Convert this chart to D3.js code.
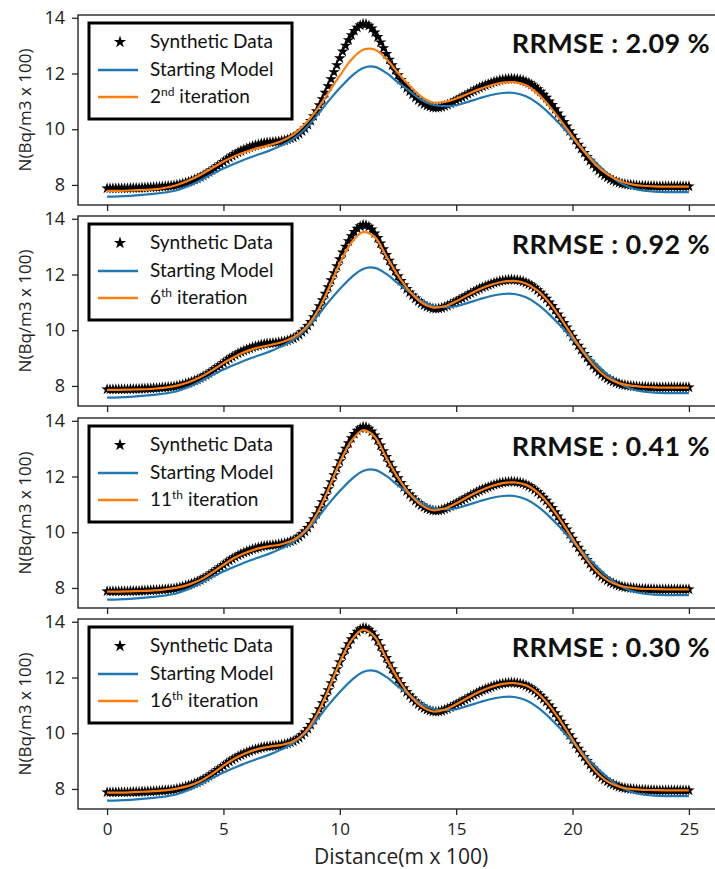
<!DOCTYPE html>
<html>
<head>
<meta charset="utf-8">
<script src="https://cdn.jsdelivr.net/npm/d3@7"></script>
<style>
  body { margin: 0; background: #fff; }
  svg { display: block; }
</style>
</head>
<body>
<svg id="chart" width="715" height="869"></svg>
<script>
// Synthetic data, sampled every 0.125 (distance in m x 100); one row per unit
const syntheticData = [
  7.88, 7.88, 7.88, 7.88, 7.88, 7.88, 7.88, 7.88,
  7.89, 7.89, 7.89, 7.89, 7.90, 7.90, 7.91, 7.91,
  7.92, 7.92, 7.93, 7.94, 7.95, 7.96, 7.97, 7.98,
  8.00, 8.02, 8.05, 8.08, 8.11, 8.15, 8.19, 8.23,
  8.28, 8.34, 8.40, 8.46, 8.53, 8.60, 8.68, 8.75,
  8.83, 8.91, 8.98, 9.05, 9.11, 9.17, 9.22, 9.27,
  9.31, 9.35, 9.39, 9.42, 9.45, 9.48, 9.50, 9.52,
  9.53, 9.54, 9.55, 9.56, 9.58, 9.60, 9.63, 9.67,
  9.71, 9.77, 9.84, 9.93, 10.03, 10.16, 10.30, 10.47,
  10.65, 10.86, 11.08, 11.31, 11.55, 11.80, 12.05, 12.30,
  12.55, 12.79, 13.00, 13.20, 13.38, 13.53, 13.65, 13.73,
  13.78, 13.77, 13.72, 13.62, 13.48, 13.31, 13.12, 12.91,
  12.70, 12.50, 12.30, 12.12, 11.94, 11.77, 11.62, 11.48,
  11.36, 11.25, 11.14, 11.05, 10.97, 10.90, 10.85, 10.81,
  10.78, 10.77, 10.78, 10.80, 10.84, 10.88, 10.93, 10.98,
  11.04, 11.10, 11.15, 11.21, 11.27, 11.33, 11.38, 11.44,
  11.49, 11.54, 11.58, 11.62, 11.66, 11.70, 11.73, 11.76,
  11.78, 11.80, 11.81, 11.82, 11.81, 11.80, 11.78, 11.75,
  11.71, 11.66, 11.60, 11.53, 11.44, 11.35, 11.24, 11.13,
  11.00, 10.87, 10.72, 10.57, 10.42, 10.26, 10.10, 9.93,
  9.77, 9.61, 9.45, 9.30, 9.15, 9.01, 8.87, 8.74,
  8.62, 8.52, 8.42, 8.34, 8.27, 8.21, 8.16, 8.12,
  8.08, 8.05, 8.03, 8.01, 8.00, 7.99, 7.98, 7.97,
  7.97, 7.97, 7.96, 7.96, 7.96, 7.95, 7.95, 7.95,
  7.95, 7.95, 7.95, 7.95, 7.95, 7.95, 7.95, 7.95,
  7.95
];
const syntheticX = syntheticData.map((_, i) => i * 0.125);

// Model curves, sampled every 0.5
const startingModel = [
  7.58, 7.59, 7.61, 7.64, 7.68, 7.73, 7.81, 7.96, 8.16, 8.38,
  8.59, 8.77, 8.94, 9.09, 9.24, 9.42, 9.65, 10.00, 10.47, 11.00,
  11.48, 11.90, 12.20, 12.24, 12.02, 11.68, 11.37, 11.06, 10.88, 10.83,
  10.86, 10.98, 11.11, 11.23, 11.30, 11.30, 11.18, 10.93, 10.57, 10.14,
  9.68, 9.23, 8.80, 8.41, 8.10, 7.90, 7.80, 7.76, 7.74, 7.74,
  7.74
];
const iteration2 = [
  7.79, 7.79, 7.80, 7.82, 7.84, 7.90, 8.00, 8.16, 8.36, 8.60,
  8.84, 9.04, 9.20, 9.33, 9.44, 9.58, 9.80, 10.18, 10.68, 11.30,
  11.92, 12.50, 12.85, 12.86, 12.52, 12.02, 11.56, 11.17, 10.96, 10.98,
  11.10, 11.27, 11.44, 11.58, 11.67, 11.69, 11.58, 11.28, 10.83, 10.30,
  9.74, 9.20, 8.72, 8.38, 8.16, 8.03, 7.97, 7.95, 7.94, 7.94,
  7.94
];
const iteration6 = [
  7.86, 7.86, 7.87, 7.88, 7.90, 7.94, 8.01, 8.13, 8.31, 8.55,
  8.82, 9.06, 9.25, 9.38, 9.47, 9.57, 9.74, 10.06, 10.62, 11.45,
  12.40, 13.15, 13.52, 13.35, 12.65, 11.96, 11.40, 11.00, 10.82, 10.86,
  11.04, 11.26, 11.47, 11.63, 11.74, 11.77, 11.68, 11.42, 10.99, 10.42,
  9.78, 9.17, 8.66, 8.30, 8.10, 8.01, 7.97, 7.95, 7.94, 7.94,
  7.94
];
const iteration11 = [
  7.87, 7.87, 7.88, 7.89, 7.91, 7.95, 8.01, 8.12, 8.29, 8.54,
  8.83, 9.09, 9.28, 9.42, 9.50, 9.57, 9.72, 10.04, 10.63, 11.52,
  12.50, 13.28, 13.66, 13.43, 12.67, 11.96, 11.38, 10.98, 10.79, 10.85,
  11.04, 11.27, 11.48, 11.65, 11.76, 11.79, 11.70, 11.43, 10.99, 10.42,
  9.77, 9.15, 8.63, 8.28, 8.09, 8.01, 7.97, 7.96, 7.95, 7.95,
  7.95
];
const iteration16 = [
  7.87, 7.87, 7.88, 7.90, 7.92, 7.95, 8.01, 8.11, 8.28, 8.53,
  8.83, 9.10, 9.30, 9.44, 9.52, 9.58, 9.71, 10.03, 10.64, 11.54,
  12.54, 13.34, 13.72, 13.46, 12.68, 11.96, 11.37, 10.97, 10.78, 10.84,
  11.04, 11.27, 11.49, 11.66, 11.77, 11.80, 11.71, 11.44, 11.00, 10.42,
  9.77, 9.15, 8.63, 8.27, 8.08, 8.00, 7.97, 7.96, 7.95, 7.95,
  7.95
];
const modelX = startingModel.map((_, i) => i * 0.5);

const iterationNumbers = ["2", "6", "11", "16"];
const iterationSuffixes = ["nd", "th", "th", "th"];
const iterationSeries = [iteration2, iteration6, iteration11, iteration16];
const rrmseValues = ["2.09", "0.92", "0.41", "0.30"];

const xTicks = [0, 5, 10, 15, 20, 25];
const yTicks = [8, 10, 12, 14];

// Layout
const svg = d3.select("#chart");
const left = 78, right = 718;
const panelTops = [15, 216, 418, 619];
const panelH = 190;

const x = d3.scaleLinear().domain([-1.25, 26.25]).range([left, right]);

const tickFont = "'Open Sans', sans-serif";
const legendFont = "Lato, sans-serif";
const frameColor = "#262626";
const blue = "#1f77b4";
const orange = "#ff7f0e";

const star = d3.symbol().type(d3.symbolStar).size(42);
const legendStar = d3.symbol().type(d3.symbolStar).size(48);

panelTops.forEach((top, p) => {
  const y = d3.scaleLinear().domain([7.28, 14.1]).range([top + panelH, top]);
  const g = svg.append("g");

  const clipId = "clip" + p;
  svg.append("clipPath").attr("id", clipId)
    .append("rect").attr("x", left).attr("y", top).attr("width", right - left).attr("height", panelH);

  const plot = g.append("g").attr("clip-path", `url(#${clipId})`);

  // synthetic data stars
  plot.append("g").selectAll("path")
    .data(syntheticData)
    .join("path")
    .attr("d", star)
    .attr("transform", (d, i) => `translate(${x(syntheticX[i])},${y(d)})`)
    .attr("fill", "#000");

  const line = d3.line()
    .x((d, i) => x(modelX[i]))
    .y(d => y(d))
    .curve(d3.curveCatmullRom.alpha(0.5));

  plot.append("path")
    .datum(startingModel)
    .attr("d", line)
    .attr("fill", "none")
    .attr("stroke", blue)
    .attr("stroke-width", 2.2);

  plot.append("path")
    .datum(iterationSeries[p])
    .attr("d", line)
    .attr("fill", "none")
    .attr("stroke", orange)
    .attr("stroke-width", 2.2);

  // frame
  g.append("rect")
    .attr("x", left).attr("y", top)
    .attr("width", right - left).attr("height", panelH)
    .attr("fill", "none")
    .attr("stroke", frameColor)
    .attr("stroke-width", 1.4);

  // y axis
  const yAxis = g.append("g")
    .attr("transform", `translate(${left},0)`)
    .call(d3.axisLeft(y).tickValues(yTicks).tickSize(6).tickPadding(7).tickFormat(d3.format("d")));
  yAxis.select(".domain").remove();
  yAxis.selectAll("line").attr("stroke", frameColor).attr("stroke-width", 1.3);
  yAxis.selectAll("text")
    .attr("fill", "#222")
    .style("font-family", tickFont)
    .style("font-size", "18px");

  // x axis
  const last = p === panelTops.length - 1;
  const xAxis = g.append("g")
    .attr("transform", `translate(0,${top + panelH})`)
    .call(d3.axisBottom(x).tickValues(xTicks).tickSize(6).tickPadding(8)
      .tickFormat(last ? d3.format("d") : () => ""));
  xAxis.select(".domain").remove();
  xAxis.selectAll("line").attr("stroke", frameColor).attr("stroke-width", 1.3);
  xAxis.selectAll("text")
    .attr("fill", "#222")
    .style("font-family", tickFont)
    .style("font-size", "17px");

  // y axis title
  g.append("text")
    .attr("transform", `translate(31,${top + panelH / 2}) rotate(-90)`)
    .attr("text-anchor", "middle")
    .attr("fill", "#222")
    .style("font-family", tickFont)
    .style("font-size", "17px")
    .text("N(Bq/m3 x 100)");

  // legend
  const lg = g.append("g");
  lg.append("rect")
    .attr("x", 89).attr("y", top + 8)
    .attr("width", 203).attr("height", 96)
    .attr("fill", "#fff")
    .attr("stroke", "#000")
    .attr("stroke-width", 3);
  lg.append("path")
    .attr("d", legendStar)
    .attr("transform", `translate(120,${top + 27})`)
    .attr("fill", "#000");
  lg.append("line")
    .attr("x1", 98).attr("x2", 138)
    .attr("y1", top + 55).attr("y2", top + 55)
    .attr("stroke", blue).attr("stroke-width", 2.5);
  lg.append("line")
    .attr("x1", 98).attr("x2", 138)
    .attr("y1", top + 82).attr("y2", top + 82)
    .attr("stroke", orange).attr("stroke-width", 2.5);

  const lt = (yy) => lg.append("text")
    .attr("x", 150).attr("y", yy)
    .attr("fill", "#111")
    .style("font-family", legendFont)
    .style("font-size", "19px");
  lt(top + 33).text("Synthetic Data");
  lt(top + 61).text("Starting Model");
  const it = lt(top + 88);
  it.append("tspan").text(iterationNumbers[p]);
  it.append("tspan").attr("dy", -7).style("font-size", "12px").text(iterationSuffixes[p]);
  it.append("tspan").attr("dy", 7).text(" iteration");

  // RRMSE annotation
  g.append("text")
    .attr("x", 710).attr("y", top + 38)
    .attr("text-anchor", "end")
    .attr("fill", "#111")
    .style("font-family", legendFont)
    .style("font-weight", "bold")
    .style("font-size", "27px")
    .style("letter-spacing", "0.4px")
    .text(`RRMSE : ${rrmseValues[p]} %`);
});

// x axis title
svg.append("text")
  .attr("x", 401).attr("y", 864)
  .attr("text-anchor", "middle")
  .attr("fill", "#222")
  .style("font-family", tickFont)
  .style("font-size", "21px")
  .text("Distance(m x 100)");
</script>
</body>
</html>
